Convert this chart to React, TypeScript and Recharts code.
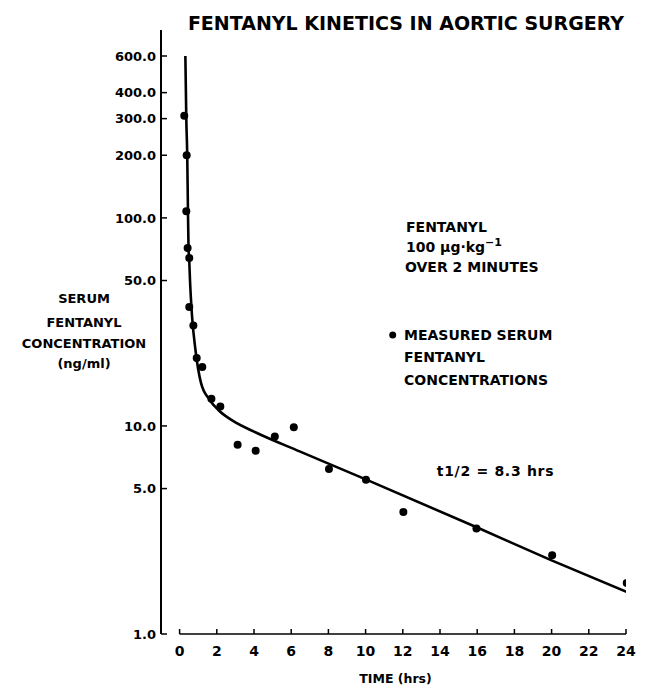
import React from 'react';
import {
    ComposedChart,
    Line,
    Scatter,
    XAxis,
    YAxis,
    ReferenceLine,
} from 'recharts';

// fitted two-compartment curve (hours, ng/ml)
const curveTimes = [0.31, 0.36, 0.41, 0.45, 0.48, 0.52, 0.56, 0.67, 0.85, 1.15, 1.6, 2.14, 2.85, 4.1, 6.45, 10.04, 16, 20, 24.05];
const curveConc = [600, 300, 200, 107, 72, 62, 50, 33.6, 23.3, 16.1, 13.4, 11.8, 10.6, 9.3, 7.55, 5.52, 3.25, 2.26, 1.59];

// measured serum samples
const sampleTimes = [0.25, 0.38, 0.36, 0.43, 0.52, 0.52, 0.74, 0.92, 1.22, 1.71, 2.19, 3.12, 4.09, 5.12, 6.14, 8.03, 10.02, 12.03, 15.96, 20.03, 24.04];
const sampleConc = [310, 200, 107.6, 71.7, 64.2, 37.3, 30.4, 21.2, 19.2, 13.5, 12.4, 8.13, 7.6, 8.9, 9.85, 6.21, 5.52, 3.86, 3.21, 2.39, 1.76];

const yTicks = [1, 5, 10, 50, 100, 200, 300, 400, 600];
const xTicks = [0, 2, 4, 6, 8, 10, 12, 14, 16, 18, 20, 22, 24];

const curveData = curveTimes.map((t, i) => ({ t, c: curveConc[i] }));
const sampleData = sampleTimes.map((t, i) => ({ t, c: sampleConc[i] }));

const FONT = '"DejaVu Sans", sans-serif';

const YTick = (props: any) => {
    const { x, y, payload } = props;
    return (
        <g>
            <line x1={x + 5} x2={x + 11} y1={y} y2={y} stroke="#000" strokeWidth={1.5} />
            <text x={x} y={y} dy="0.36em" textAnchor="end" fontFamily={FONT} fontWeight="bold" fontSize={13} fill="#000">
                {Number(payload.value).toFixed(1)}
            </text>
        </g>
    );
};

const XTick = (props: any) => {
    const { x, y, payload } = props;
    return (
        <g>
            <line x1={x} x2={x} y1={y - 10} y2={y - 15} stroke="#000" strokeWidth={1.5} />
            <text x={x} y={y + 12} textAnchor="middle" fontFamily={FONT} fontWeight="bold" fontSize={14} fill="#000">
                {payload.value}
            </text>
        </g>
    );
};

const Dot = (props: any) => <circle cx={props.cx} cy={props.cy} r={4} fill="#000" />;

export default function App() {
    const txt = { fontFamily: FONT, fontWeight: 'bold' as const, fill: '#000' };
    return (
        <div style={{ position: 'absolute', left: 0, top: 0, width: 647, height: 687, background: '#fff' }}>
            <ComposedChart width={647} height={687} margin={{ top: 30, right: 21, left: 0, bottom: 1 }}>
                <XAxis
                    type="number"
                    dataKey="t"
                    domain={[-1, 24]}
                    ticks={xTicks}
                    axisLine={false}
                    tickLine={false}
                    tickSize={0}
                    tickMargin={10}
                    height={52}
                    tick={<XTick />}
                    allowDataOverflow
                />
                <YAxis
                    type="number"
                    dataKey="c"
                    scale="log"
                    domain={[1, 800]}
                    ticks={yTicks}
                    width={161}
                    axisLine={{ stroke: '#000', strokeWidth: 2 }}
                    tickLine={false}
                    tickSize={0}
                    tickMargin={5}
                    tick={<YTick />}
                    allowDataOverflow
                />
                <ReferenceLine segment={[{ x: 0, y: 1 }, { x: 24, y: 1 }]} stroke="#000" strokeWidth={1.5} />
                <Line
                    data={curveData}
                    dataKey="c"
                    type="monotone"
                    stroke="#000"
                    strokeWidth={2.6}
                    dot={false}
                    activeDot={false}
                    isAnimationActive={false}
                />
                <Scatter data={sampleData} dataKey="c" shape={<Dot />} isAnimationActive={false} />
            </ComposedChart>
            <svg width={647} height={687} style={{ position: 'absolute', left: 0, top: 0, pointerEvents: 'none' }}>
                <text x={406} y={30} textAnchor="middle" fontSize={19} {...txt}>FENTANYL KINETICS IN AORTIC SURGERY</text>

                <text x={84} y={303} textAnchor="middle" fontSize={13} {...txt}>SERUM</text>
                <text x={84} y={326.5} textAnchor="middle" fontSize={13} {...txt}>FENTANYL</text>
                <text x={84} y={347.5} textAnchor="middle" fontSize={13} {...txt}>CONCENTRATION</text>
                <text x={84} y={367.5} textAnchor="middle" fontSize={13} {...txt}>(ng/ml)</text>

                <text x={406} y={232} fontSize={14} {...txt}>FENTANYL</text>
                <text x={406} y={251.5} fontSize={14} {...txt}>
                    <tspan>100 μg·kg</tspan>
                    <tspan dy={-6} fontSize={11}>−1</tspan>
                </text>
                <text x={405} y={272} fontSize={14} {...txt}>OVER 2 MINUTES</text>

                <circle cx={392.7} cy={335} r={3.5} fill="#000" />
                <text x={404} y={340} fontSize={14} {...txt}>MEASURED SERUM</text>
                <text x={404} y={362} fontSize={14} {...txt}>FENTANYL</text>
                <text x={404} y={385} fontSize={14} {...txt}>CONCENTRATIONS</text>

                <text x={495.5} y={476} textAnchor="middle" fontSize={14} letterSpacing={0.7} {...txt}>t1/2 = 8.3 hrs</text>

                <text x={395.5} y={682.5} textAnchor="middle" fontSize={12.5} {...txt}>TIME (hrs)</text>
            </svg>
        </div>
    );
}
